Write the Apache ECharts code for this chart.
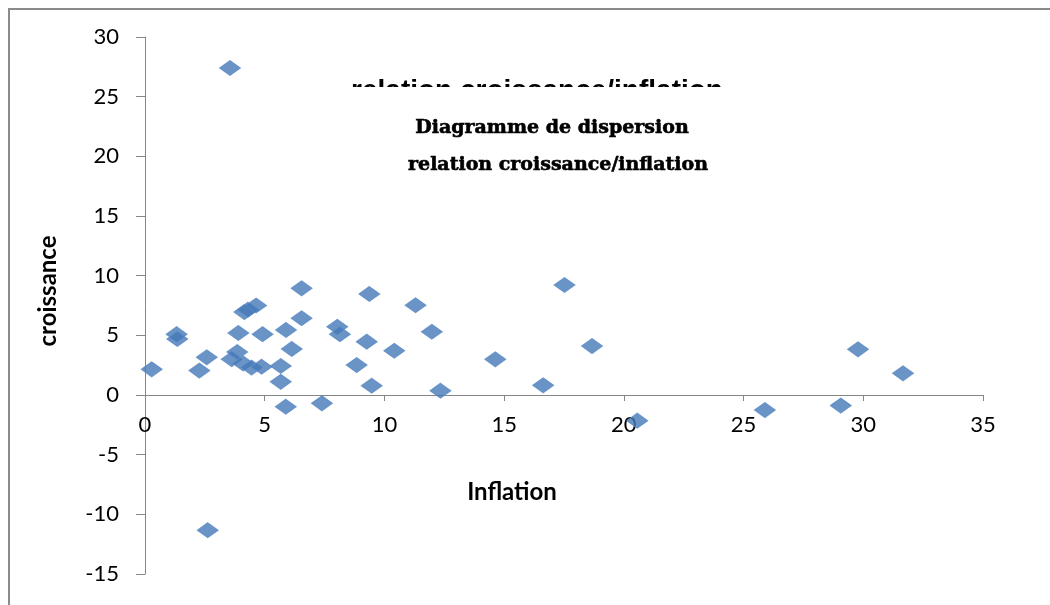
<!DOCTYPE html>
<html>
<head>
<meta charset="utf-8">
<script src="https://cdn.jsdelivr.net/npm/echarts@6/dist/echarts.min.js"></script>
<style>html,body{margin:0;padding:0;background:#fff;}#c{width:1050px;height:605px;}</style>
</head>
<body>
<div id="c"></div>
<script>
// Data
var inflation = [0.28, 1.32, 1.35, 2.27, 2.58, 2.62, 3.55, 3.62, 3.85, 3.9, 4.1, 4.15, 4.3, 4.45, 4.64, 4.87, 4.91, 5.67, 5.67, 5.88, 5.89, 6.13, 6.54, 6.54, 7.39, 8.03, 8.14, 8.84, 9.26, 9.37, 9.47, 10.41, 11.3, 11.98, 12.34, 14.63, 16.63, 17.52, 18.67, 20.56, 25.89, 29.06, 29.78, 31.66];
var croissance = [2.15, 5.1, 4.7, 2.05, 3.16, -11.33, 27.4, 3.0, 3.6, 5.2, 2.65, 6.95, 7.15, 2.3, 7.5, 2.37, 5.1, 2.43, 1.1, -0.98, 5.45, 3.86, 8.94, 6.43, -0.7, 5.72, 5.1, 2.51, 4.47, 8.47, 0.78, 3.71, 7.52, 5.3, 0.36, 2.99, 0.81, 9.22, 4.1, -2.15, -1.26, -0.89, 3.83, 1.82];
var xTicks = {min: 0, max: 35, step: 5};
var yTicks = {min: -15, max: 30, step: 5};
var titleLine1 = 'Diagramme de dispersion';
var titleLine2 = 'relation croissance/inflation';
var clippedTitle = 'relation croissance/inflation';
var xName = 'Inflation';
var yName = 'croissance';

var points = inflation.map(function (v, i) { return [v, croissance[i]]; });
var labelFont = 'Lato, "Open Sans", sans-serif';
var axisGray = '#868686';
var gridTop = 37, gridBottom = 31, chartH = 605;
// distance from grid bottom to the y=0 line, so the x axis sits on zero
var plotH = chartH - gridTop - gridBottom;
var zeroOffset = plotH * (0 - yTicks.min) / (yTicks.max - yTicks.min);

var chart = echarts.init(document.getElementById('c'), null, {renderer: 'canvas'});
chart.setOption({
  backgroundColor: '#ffffff',
  animation: false,
  grid: {left: 145, right: 67, top: gridTop, bottom: gridBottom, containLabel: false, outerBoundsMode: 'none'},
  xAxis: {
    type: 'value', min: xTicks.min, max: xTicks.max, interval: xTicks.step,
    position: 'bottom', offset: -zeroOffset,
    axisLine: {show: true, onZero: false, lineStyle: {color: axisGray, width: 1}},
    axisTick: {show: true, length: 6, lineStyle: {color: axisGray}},
    axisLabel: {color: '#000', fontSize: 22, fontFamily: labelFont, margin: 19},
    splitLine: {show: false}
  },
  yAxis: {
    type: 'value', min: yTicks.min, max: yTicks.max, interval: yTicks.step,
    axisLine: {show: true, onZero: false, lineStyle: {color: axisGray, width: 1}},
    axisTick: {show: true, length: 9, lineStyle: {color: axisGray}},
    axisLabel: {color: '#000', fontSize: 22, fontFamily: labelFont, margin: 26},
    splitLine: {show: false}
  },
  series: [{
    type: 'scatter',
    data: points,
    symbol: 'diamond',
    symbolSize: [21, 15],
    itemStyle: {color: '#4578b8', borderColor: '#5a8bc6', borderWidth: 1},
    z: 3
  }],
  graphic: [
    {type: 'rect', z: 0, shape: {x: 9, y: 9, width: 1200, height: 800},
      style: {fill: 'none', stroke: '#8a8a8a', lineWidth: 2}},
    {type: 'text', z: 10, x: 537, y: 77, style: {text: clippedTitle, font: 'bold 28px "Liberation Sans", Arial, sans-serif', fill: '#000', textAlign: 'center', align: 'center', textVerticalAlign: 'top', verticalAlign: 'top'}},
    {type: 'rect', z: 11, shape: {x: 320, y: 87, width: 440, height: 30}, style: {fill: '#ffffff'}},
    {type: 'text', z: 12, x: 552, y: 128, style: {text: titleLine1, font: 'bold 19px "DejaVu Serif", serif', fill: '#000', stroke: '#000', lineWidth: 0.6, textAlign: 'center', align: 'center', textVerticalAlign: 'middle', verticalAlign: 'middle'}},
    {type: 'text', z: 12, x: 558, y: 165, style: {text: titleLine2, font: 'bold 19px "DejaVu Serif", serif', fill: '#000', stroke: '#000', lineWidth: 0.6, textAlign: 'center', align: 'center', textVerticalAlign: 'middle', verticalAlign: 'middle'}},
    {type: 'text', z: 10, x: 512, y: 492, style: {text: xName, font: 'bold 24px ' + labelFont, fill: '#000', textAlign: 'center', align: 'center', textVerticalAlign: 'middle', verticalAlign: 'middle'}},
    {type: 'text', z: 10, x: 48, y: 291, rotation: Math.PI / 2, style: {text: yName, font: 'bold 24px ' + labelFont, fill: '#000', textAlign: 'center', align: 'center', textVerticalAlign: 'middle', verticalAlign: 'middle'}}
  ]
});
</script>
</body>
</html>
